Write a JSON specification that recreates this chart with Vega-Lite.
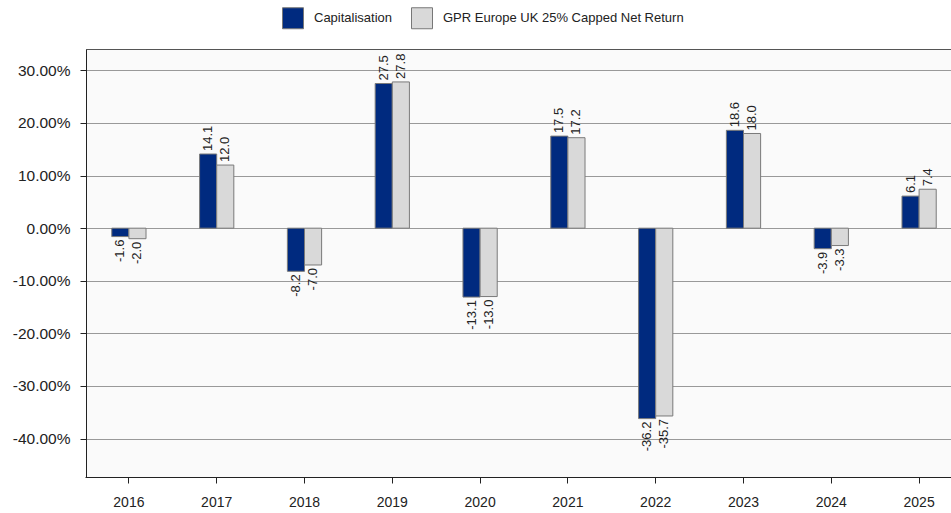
{
  "$schema": "https://vega.github.io/schema/vega-lite/v6.json",
  "autosize": {"type": "none"},
  "width": 865,
  "height": 428,
  "padding": {"left": 86, "top": 49, "right": 0, "bottom": 36},
  "background": "white",
  "config": {
    "view": {"fill": "#fafafa", "stroke": "#555", "strokeWidth": 1},
    "font": "Liberation Sans"
  },
  "data": {
    "values": [
      {"year": "2016", "series": "Capitalisation", "value": -1.6},
      {"year": "2017", "series": "Capitalisation", "value": 14.1},
      {"year": "2018", "series": "Capitalisation", "value": -8.2},
      {"year": "2019", "series": "Capitalisation", "value": 27.5},
      {"year": "2020", "series": "Capitalisation", "value": -13.1},
      {"year": "2021", "series": "Capitalisation", "value": 17.5},
      {"year": "2022", "series": "Capitalisation", "value": -36.2},
      {"year": "2023", "series": "Capitalisation", "value": 18.6},
      {"year": "2024", "series": "Capitalisation", "value": -3.9},
      {"year": "2025", "series": "Capitalisation", "value": 6.1},
      {"year": "2016", "series": "GPR Europe UK 25% Capped Net Return", "value": -2.0},
      {"year": "2017", "series": "GPR Europe UK 25% Capped Net Return", "value": 12.0},
      {"year": "2018", "series": "GPR Europe UK 25% Capped Net Return", "value": -7.0},
      {"year": "2019", "series": "GPR Europe UK 25% Capped Net Return", "value": 27.8},
      {"year": "2020", "series": "GPR Europe UK 25% Capped Net Return", "value": -13.0},
      {"year": "2021", "series": "GPR Europe UK 25% Capped Net Return", "value": 17.2},
      {"year": "2022", "series": "GPR Europe UK 25% Capped Net Return", "value": -35.7},
      {"year": "2023", "series": "GPR Europe UK 25% Capped Net Return", "value": 18.0},
      {"year": "2024", "series": "GPR Europe UK 25% Capped Net Return", "value": -3.3},
      {"year": "2025", "series": "GPR Europe UK 25% Capped Net Return", "value": 7.4}
    ]
  },
  "transform": [
    {"calculate": "replace(format(datum.value, '.1f'), '\u2212', '-')", "as": "lbl"}
  ],
  "encoding": {
    "x": {
      "field": "year", "type": "nominal", "title": null,
      "scale": {"range": [-1, 877], "paddingInner": 0.61, "paddingOuter": 0.305},
      "axis": {
        "labelAngle": 0, "domainColor": "#222", "tickColor": "#222", "tickSize": 6,
        "labelPadding": 12, "labelFontSize": 14, "labelColor": "#222",
        "grid": false
      }
    },
    "xOffset": {
      "field": "series", "type": "nominal",
      "scale": {"domain": ["Capitalisation", "GPR Europe UK 25% Capped Net Return"], "paddingInner": 0}
    },
    "y": {
      "field": "value", "type": "quantitative", "title": null,
      "scale": {"domain": [-47.3, 34.06], "nice": false, "zero": false},
      "axis": {
        "values": [-40, -30, -20, -10, 0, 10, 20, 30],
        "labelExpr": "replace(format(datum.value / 100, '.2%'), '\u2212', '-')",
        "domainColor": "#222", "tickColor": "#222", "tickSize": 6, "labelPadding": 10,
        "labelFontSize": 15.5, "labelColor": "#222",
        "grid": true, "gridColor": "#999", "gridWidth": 1
      }
    }
  },
  "layer": [
    {
      "mark": {"type": "bar", "stroke": "#7a7a7a", "strokeWidth": 1},
      "encoding": {
        "color": {
          "field": "series", "type": "nominal", "title": null,
          "scale": {"domain": ["Capitalisation", "GPR Europe UK 25% Capped Net Return"], "range": ["#002a7f", "#d9d9d9"]},
          "legend": {
            "orient": "none", "legendX": 196, "legendY": -42, "direction": "horizontal",
            "symbolType": "square", "symbolSize": 441, "symbolStrokeColor": "#777", "symbolStrokeWidth": 1,
            "symbolOpacity": 1, "labelFontSize": 13, "labelLimit": 0,
            "labelColor": "#222", "labelOffset": 10, "columnPadding": 16, "padding": 0
          }
        }
      }
    },
    {
      "transform": [{"filter": "datum.value >= 0"}],
      "mark": {"type": "text", "angle": 270, "align": "left", "baseline": "middle", "dx": 3, "fontSize": 13, "color": "#222"},
      "encoding": {"text": {"field": "lbl"}}
    },
    {
      "transform": [{"filter": "datum.value < 0"}],
      "mark": {"type": "text", "angle": 270, "align": "right", "baseline": "middle", "dx": -3, "fontSize": 13, "color": "#222"},
      "encoding": {"text": {"field": "lbl"}}
    }
  ]
}
